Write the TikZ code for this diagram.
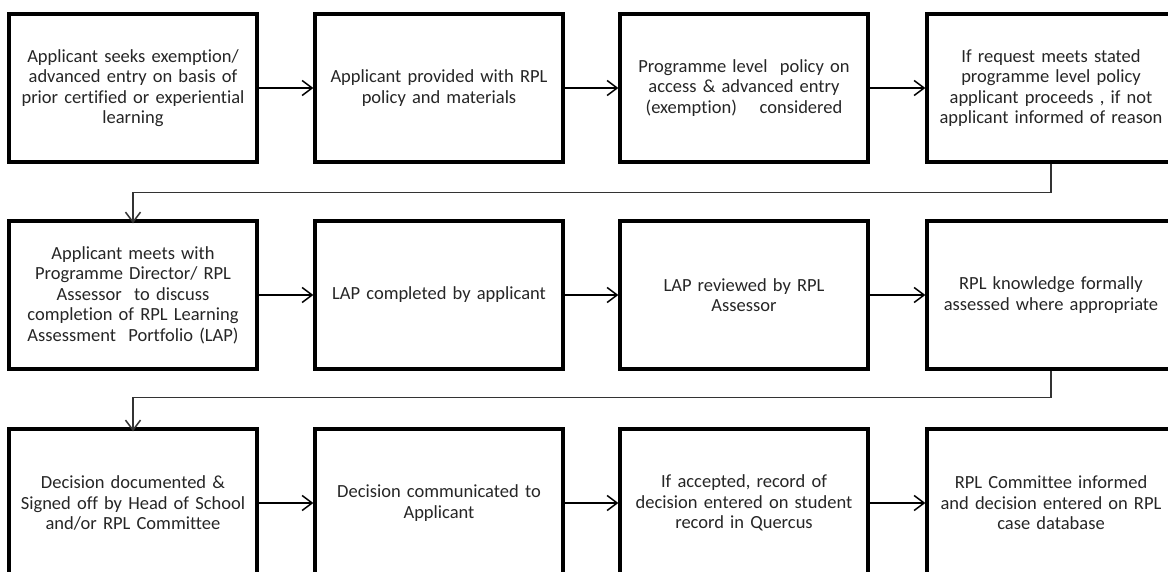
\documentclass[tikz,border=0pt]{standalone}
\usepackage{fontspec}
\setmainfont{Carlito}[RawFeature={-liga;-clig;-dlig}]
\usetikzlibrary{arrows.meta}
\begin{document}
\begin{tikzpicture}[x=1pt,y=-1pt,
  stepbox/.style={draw=black, line width=3.3pt, fill=white, minimum width=248pt, minimum height=148pt,
    text width=244pt, align=center, inner sep=0pt, text=black!85,
    font=\fontsize{18.5}{20.5}\selectfont},
  arr/.style={line width=1.5pt, -{Straight Barb[length=10pt,width=15pt,line width=1.5pt]}},
  conn/.style={line width=1.5pt, draw=black!80, -{Straight Barb[length=10pt,width=15pt,line width=1.5pt]}}
]
\useasboundingbox (0,0) rectangle (1168,571);
\fill[white] (0,0) rectangle (1168,571);
% row 1
\node[stepbox] (b1) at (133,88) {Applicant seeks exemption/\\ advanced entry on basis of\\ prior certified or experiential\\ learning};
\node[stepbox] (b2) at (439,88) {Applicant provided with RPL\\ policy and materials};
\node[stepbox] (b3) at (744,88) {Programme level\ \ policy on\\ access \& advanced entry\\ (exemption)\hspace{0.9em} considered};
\node[stepbox] (b4) at (1051,88) {If request meets stated\\ programme level policy\\ applicant proceeds , if not\\ applicant informed of reason};
% row 2
\node[stepbox] (b5) at (133,295) {Applicant meets with\\ Programme Director/ RPL\\ Assessor\ \ to discuss\\ completion of RPL Learning\\ Assessment\ \ Portfolio (LAP)};
\node[stepbox] (b6) at (439,295) {LAP completed by applicant};
\node[stepbox] (b7) at (744,295) {LAP reviewed by RPL\\ Assessor};
\node[stepbox] (b8) at (1051,295) {RPL knowledge formally\\ assessed where appropriate};
% row 3
\node[stepbox] (b9) at (133,503) {Decision documented \&\\ Signed off by Head of School\\ and/or RPL Committee};
\node[stepbox] (b10) at (439,503) {Decision communicated to\\ Applicant};
\node[stepbox] (b11) at (744,503) {If accepted, record of\\ decision entered on student\\ record in Quercus};
\node[stepbox] (b12) at (1051,503) {RPL Committee informed\\ and decision entered on RPL\\ case database};
% arrows
\draw[arr] (b1.east) -- (b2.west);
\draw[arr] (b2.east) -- (b3.west);
\draw[arr] (b3.east) -- (b4.west);
\draw[arr] (b5.east) -- (b6.west);
\draw[arr] (b6.east) -- (b7.west);
\draw[arr] (b7.east) -- (b8.west);
\draw[arr] (b9.east) -- (b10.west);
\draw[arr] (b10.east) -- (b11.west);
\draw[arr] (b11.east) -- (b12.west);
\draw[conn] (b4.south) -- ++(0,29) -| ([yshift=-4pt]b5.north);
\draw[conn] (b8.south) -- ++(0,27) -| ([yshift=-4pt]b9.north);
\end{tikzpicture}
\end{document}
